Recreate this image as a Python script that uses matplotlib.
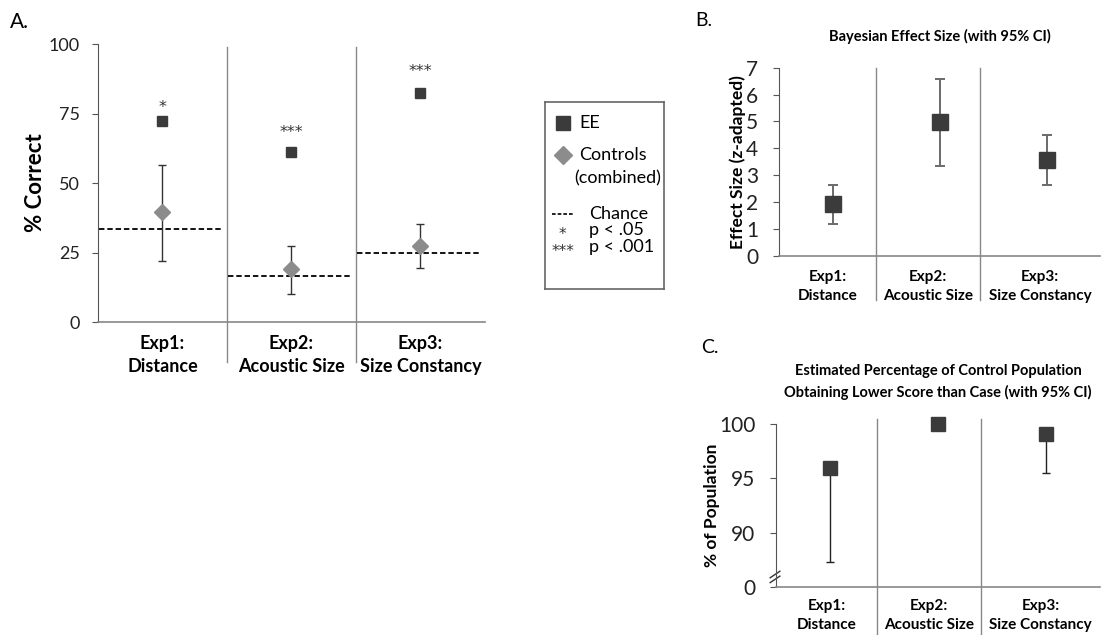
import matplotlib
matplotlib.use("Agg")
from matplotlib import pyplot as plt
import numpy as np

plt.rcParams['font.family'] = ['Lato', 'DejaVu Sans']

# ---- data ----
experiments = ["Exp1:\nDistance", "Exp2:\nAcoustic Size", "Exp3:\nSize Constancy"]

# panel A: % correct
ee_correct = [72.2, 61.1, 82.3]
ctrl_correct = [39.4, 18.9, 27.3]
ctrl_low = [22.0, 10.1, 19.4]
ctrl_high = [56.5, 27.2, 35.4]
chance = [33.3, 16.7, 25.0]
stars = ["*", "***", "***"]
star_y = [77, 68, 90]

# panel B: Bayesian effect size
effect = [1.92, 4.97, 3.57]
effect_low = [1.18, 3.36, 2.64]
effect_high = [2.64, 6.57, 4.50]

# panel C: % of control population below case
pop_pct = [96.0, 100.0, 99.1]
pop_low = [87.3, 100.0, 95.5]

DARK = "#3b3b3b"
MID = "#8c8c8c"
AXC = "#888888"
STAR_FONT = ['DejaVu Sans']

fig = plt.figure(figsize=(11.07, 6.35), dpi=100)
x = np.arange(1, 4)


def style_axes(ax, dividers, div_span, label_size, tick_size, pad, ypad):
    ax.spines['top'].set_visible(False)
    ax.spines['right'].set_visible(False)
    ax.spines['left'].set_color("#555555")
    ax.spines['bottom'].set_color(AXC)
    ax.spines['bottom'].set_linewidth(1.2)
    ax.set_xlim(0.5, 3.5)
    for d in dividers:
        ax.axvline(d, ymin=div_span[0], ymax=div_span[1], color=AXC,
                   lw=1.0, clip_on=False)
    edges = [0.5] + list(dividers) + [3.5]
    mids = [(edges[i] + edges[i + 1]) / 2 for i in range(3)]
    ax.set_xticks(mids)
    ax.set_xticklabels(experiments, fontweight='bold', fontsize=label_size,
                       linespacing=1.45)
    ax.tick_params(axis='x', length=0, pad=pad)
    ax.tick_params(axis='y', direction='out', length=4, color="#555555",
                   labelsize=tick_size, labelcolor="#222222", pad=ypad)


# ---- panel A ----
axA = fig.add_axes([0.0885, 0.4929, 0.3496, 0.4378])
style_axes(axA, [1.5, 2.5], (-0.145, 0.99), 13, 13, 9, 9)
axA.set_ylim(0, 100)
axA.set_yticks([0, 25, 50, 75, 100])
axA.hlines(chance, x - 0.49, x + 0.47, colors='black', linestyles=(0, (3, 1.6)),
           lw=1.3)
axA.errorbar(x, ctrl_correct,
             yerr=[np.subtract(ctrl_correct, ctrl_low), np.subtract(ctrl_high, ctrl_correct)],
             fmt='none', ecolor='#333333', elinewidth=1.0, capsize=3, capthick=1.0)
axA.plot(x, ctrl_correct, linestyle='none', marker='D', markersize=8.5,
         color=MID, mec=MID)
axA.plot(x, ee_correct, linestyle='none', marker='s', markersize=7.5,
         color=DARK, mec=DARK)
for xi, s, sy in zip(x, stars, star_y):
    axA.text(xi, sy, s, ha='center', va='center', fontsize=11.5, color="#333333",
             family=STAR_FONT)
axA.set_ylabel("% Correct", fontsize=16, fontweight='bold', labelpad=2)
fig.text(0.009, 0.965, "A.", fontsize=15, va='center')

# legend box, drawn by hand
axL = fig.add_axes([0.4923, 0.545, 0.1075, 0.294])
axL.set_xlim(0, 1)
axL.set_ylim(0, 1)
axL.set_xticks([])
axL.set_yticks([])
for sp in axL.spines.values():
    sp.set_color("#666666")
    sp.set_linewidth(1.2)
axL.plot([0.15], [0.89], marker='s', markersize=10, color=DARK, mec=DARK)
axL.plot([0.15], [0.715], marker='D', markersize=9, color=MID, mec=MID)
axL.plot([0.06, 0.24], [0.40, 0.40], color='black', lw=1.2, linestyle=(0, (2.2, 1.2)))
lfs = 13
axL.text(0.29, 0.89, "EE", va='center', fontsize=lfs)
axL.text(0.29, 0.715, "Controls", va='center', fontsize=lfs)
axL.text(0.25, 0.59, "(combined)", va='center', fontsize=lfs)
axL.text(0.37, 0.40, "Chance", va='center', fontsize=lfs)
axL.text(0.15, 0.29, "*", va='center', ha='center', fontsize=11, family=STAR_FONT,
         color="#333333")
axL.text(0.37, 0.315, "p < .05", va='center', fontsize=lfs)
axL.text(0.15, 0.20, "***", va='center', ha='center', fontsize=11, family=STAR_FONT,
         color="#333333")
axL.text(0.37, 0.225, "p < .001", va='center', fontsize=lfs)

# ---- panel B ----
axB = fig.add_axes([0.7037, 0.5969, 0.29, 0.2965])
style_axes(axB, [1.407, 2.38], (-0.235, 1.0), 11, 15, 10, 11)
axB.set_ylim(0, 7)
axB.set_yticks(range(8))
axB.errorbar(x, effect,
             yerr=[np.subtract(effect, effect_low), np.subtract(effect_high, effect)],
             fmt='none', ecolor='#6a6a6a', elinewidth=1.4, capsize=3.3, capthick=1.4)
axB.plot(x, effect, linestyle='none', marker='s', markersize=11,
         color=DARK, mec=DARK)
axB.set_ylabel("Effect Size (z-adapted)", fontsize=12.5, fontweight='bold', labelpad=0)
axB.set_title("Bayesian Effect Size (with 95% CI)", fontsize=10.5, fontweight='bold',
              pad=19)
fig.text(0.628, 0.968, "B.", fontsize=14, va='center')

# ---- panel C ----
axC = fig.add_axes([0.701, 0.0761, 0.2927, 0.2557])
style_axes(axC, [1.435, 2.40], (-0.29, 1.03), 11, 15, 9, 11)
axC.set_ylim(85, 100)
axC.set_yticks([85, 90, 95, 100])
axC.set_yticklabels(["0", "90", "95", "100"])
axC.errorbar(x, pop_pct, yerr=[np.subtract(pop_pct, pop_low), np.zeros(3)],
             fmt='none', ecolor='#222222', elinewidth=1.0, capsize=3, capthick=1.0)
axC.plot(x, pop_pct, linestyle='none', marker='s', markersize=10,
         color=DARK, mec=DARK, clip_on=False)
axC.set_ylabel("% of Population", fontsize=12.5, fontweight='bold', labelpad=-1)
axC.set_title("Estimated Percentage of Control Population\n"
              "Obtaining Lower Score than Case (with 95% CI)",
              fontsize=10.5, fontweight='bold', pad=20, linespacing=1.5)
# axis break mark
for dy in (0.045, 0.075):
    axC.plot([-0.018, 0.012], [dy - 0.02, dy + 0.02], transform=axC.transAxes,
             color='#333333', lw=1.0, clip_on=False)
fig.text(0.633, 0.453, "C.", fontsize=14, va='center')

fig.savefig("out.png", dpi=100)
